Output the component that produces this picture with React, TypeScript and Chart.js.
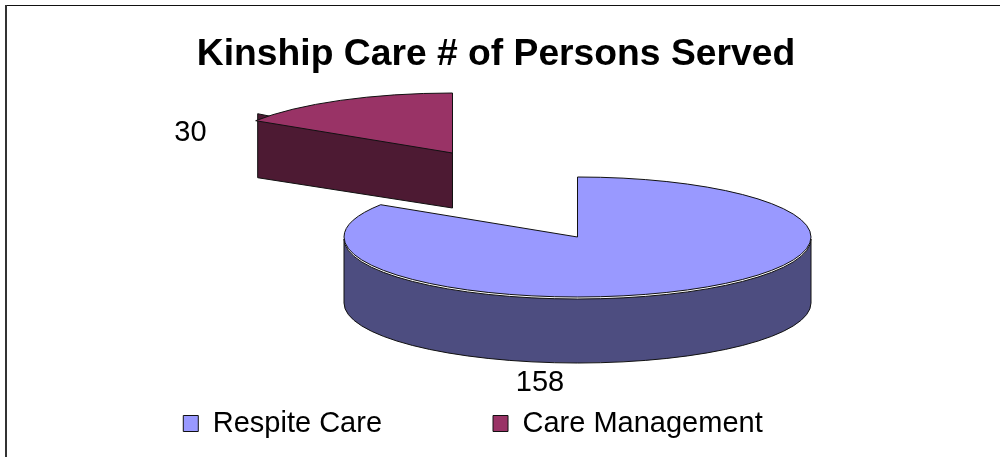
import React, { useEffect, useRef } from "react";
import { Chart, registerables } from "chart.js";

Chart.register(...registerables);

const categories = ["Respite Care", "Care Management"];
const personsServed = [158, 30];
const topColors = ["#9999FF", "#993366"];
const sideColors = ["#4D4D80", "#4D1A33"];
const chartTitle = "Kinship Care # of Persons Served";

const FONT = "'Liberation Sans', Arial, sans-serif";

// Projection of the flat pie into its 3D look, one entry per slice
const sliceView = [
  { cx: 577.5, cy: 237, depth: 66, gap: 2, labelX: 540, labelY: 383 },
  { cx: 452.5, cy: 153, depth: 56, gap: 0, labelX: 190.5, labelY: 133 },
];
const RX = 233.5;
const RY = 60;
const LEGEND_GAP = 111;

const pie3d = {
  id: "pie3d",
  afterLayout(chart: any) {
    const lg = chart.legend;
    lg.left -= 23;
    lg.right -= 23;
    const h = lg.bottom - lg.top;
    // the library puts the row one label padding below the box top
    lg.top = 409 - LEGEND_GAP;
    lg.bottom = lg.top + h;
  },
  beforeDraw(chart: any) {
    const { ctx } = chart;
    ctx.save();
    ctx.fillStyle = "#ffffff";
    ctx.fillRect(0, 0, chart.width, chart.height);
    ctx.fillStyle = "#111111";
    ctx.fillRect(5, 5, chart.width - 5, 1);
    ctx.fillStyle = "#333333";
    ctx.fillRect(5, 5, 2, chart.height - 5);
    ctx.restore();
  },
  beforeDatasetDraw(chart: any, args: any) {
    const { ctx } = chart;
    const arcs = args.meta.data;
    arcs.forEach((arc: any, i: number) => {
      const v = sliceView[i];
      const a0 = arc.startAngle;
      const a1 = arc.endAngle;
      ctx.save();
      ctx.lineWidth = 1;
      ctx.strokeStyle = "#111111";
      ctx.lineJoin = "round";
      ctx.fillStyle = sideColors[i];

      // outer wall: the part of the rim that faces the viewer
      const s = Math.max(a0, 0);
      const e = Math.min(a1, Math.PI);
      if (e > s) {
        ctx.beginPath();
        ctx.ellipse(v.cx, v.cy + v.gap, RX, RY, 0, s, e);
        ctx.ellipse(v.cx, v.cy + v.depth, RX, RY, 0, e, s, true);
        ctx.closePath();
        ctx.fill();
        ctx.stroke();
      }

      // cut wall: the exposed face of a slice pulled away from the pie
      if (i === 1) {
        const ex = v.cx + RX * Math.cos(a0);
        const ey = v.cy + RY * Math.sin(a0);
        ctx.beginPath();
        ctx.moveTo(v.cx, v.cy);
        ctx.lineTo(ex + 2, ey - 7);
        ctx.lineTo(ex + 2, ey + v.depth + 1);
        ctx.lineTo(v.cx, v.cy + v.depth - 1);
        ctx.closePath();
        ctx.fill();
        ctx.stroke();
      }

      // top face, through the library's own arc element
      ctx.save();
      ctx.translate(v.cx, v.cy);
      ctx.scale(RX / arc.outerRadius, RY / arc.outerRadius);
      ctx.translate(-arc.x, -arc.y);
      arc.draw(ctx);
      ctx.restore();

      ctx.beginPath();
      ctx.moveTo(v.cx, v.cy);
      ctx.ellipse(v.cx, v.cy, RX, RY, 0, a0, a1);
      ctx.closePath();
      ctx.stroke();

      // value label
      ctx.fillStyle = "#000000";
      ctx.font = `29px ${FONT}`;
      ctx.textAlign = "center";
      ctx.textBaseline = "middle";
      ctx.fillText(String(personsServed[i]), v.labelX, v.labelY);
      ctx.restore();
    });
    return false;
  },
};

export default function App() {
  const ref = useRef<HTMLCanvasElement>(null);
  useEffect(() => {
    document.body.style.margin = "0";
    const chart = new Chart(ref.current as HTMLCanvasElement, {
      type: "pie",
      data: {
        labels: categories,
        datasets: [
          {
            data: personsServed,
            backgroundColor: topColors,
            borderWidth: 0,
          },
        ],
      },
      options: {
        responsive: false,
        animation: false,
        layout: { padding: { left: 0, right: 8, top: 32, bottom: 0 } },
        plugins: {
          tooltip: { enabled: false },
          title: {
            display: true,
            text: chartTitle,
            color: "#000000",
            font: { family: FONT, size: 37.25, weight: "bold" },
            padding: { top: 0, bottom: 4 },
          },
          legend: {
            display: true,
            position: "bottom",
            labels: {
              color: "#000000",
              font: { family: FONT, size: 29 },
              boxWidth: 15,
              boxHeight: 16,
              padding: LEGEND_GAP,
              generateLabels: () =>
                categories.map((text, i) => ({
                  text,
                  fillStyle: topColors[i],
                  strokeStyle: "#111111",
                  lineWidth: 1,
                  index: i,
                })),
            },
          },
        },
      },
      plugins: [pie3d],
    } as any);
    return () => chart.destroy();
  }, []);
  return <canvas ref={ref} width={1000} height={457} style={{ display: "block" }} />;
}
